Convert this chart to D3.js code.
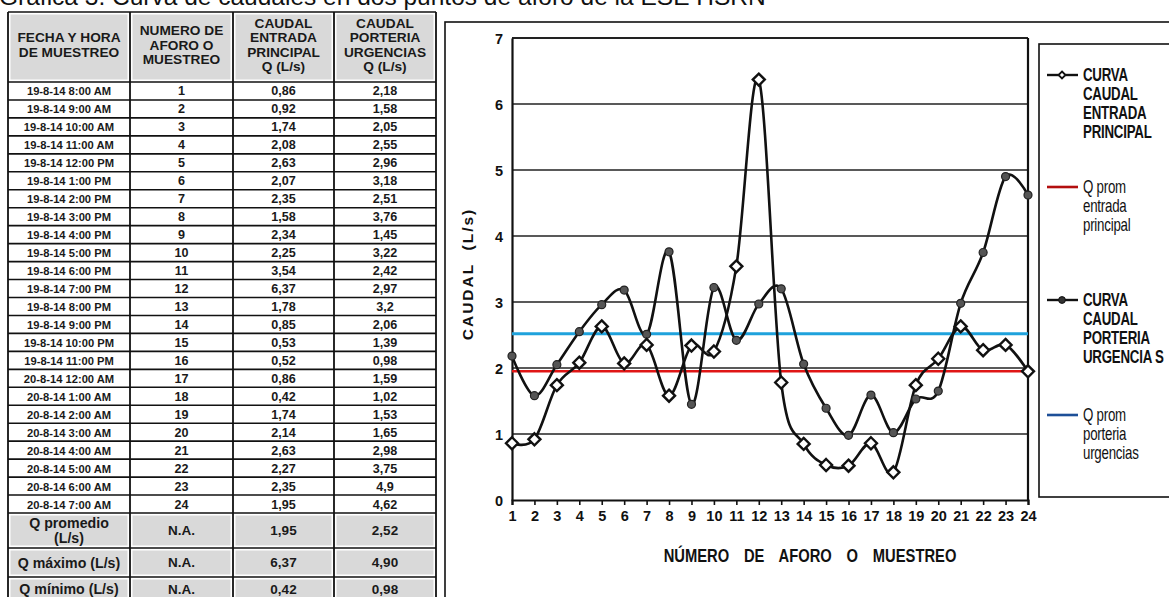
<!DOCTYPE html>
<html><head><meta charset="utf-8">
<script src="https://cdn.jsdelivr.net/npm/d3@7"></script>
<style>body{margin:0;background:#fff}svg{display:block}</style>
</head><body><svg id="c" width="1169" height="597"></svg>
<script>
const titulo = "Gráfica 3. Curva de caudales en dos puntos de aforo de la ESE HSRN";
const fechas = ["19-8-14 8:00 AM","19-8-14 9:00 AM","19-8-14 10:00 AM","19-8-14 11:00 AM","19-8-14 12:00 PM","19-8-14 1:00 PM","19-8-14 2:00 PM","19-8-14 3:00 PM","19-8-14 4:00 PM","19-8-14 5:00 PM","19-8-14 6:00 PM","19-8-14 7:00 PM","19-8-14 8:00 PM","19-8-14 9:00 PM","19-8-14 10:00 PM","19-8-14 11:00 PM","20-8-14 12:00 AM","20-8-14 1:00 AM","20-8-14 2:00 AM","20-8-14 3:00 AM","20-8-14 4:00 AM","20-8-14 5:00 AM","20-8-14 6:00 AM","20-8-14 7:00 AM"];
const muestreos = [1,2,3,4,5,6,7,8,9,10,11,12,13,14,15,16,17,18,19,20,21,22,23,24];
const entrada = [0.86,0.92,1.74,2.08,2.63,2.07,2.35,1.58,2.34,2.25,3.54,6.37,1.78,0.85,0.53,0.52,0.86,0.42,1.74,2.14,2.63,2.27,2.35,1.95];
const porteria = [2.18,1.58,2.05,2.55,2.96,3.18,2.51,3.76,1.45,3.22,2.42,2.97,3.2,2.06,1.39,0.98,1.59,1.02,1.53,1.65,2.98,3.75,4.9,4.62];
const promEntrada = 1.95;
const promPorteria = 2.52;
const encabezados = [["FECHA Y HORA","DE MUESTREO"],["NUMERO DE","AFORO O","MUESTREO"],["CAUDAL","ENTRADA","PRINCIPAL","Q (L/s)"],["CAUDAL","PORTERIA","URGENCIAS","Q (L/s)"]];
const resumenEtiquetas = [["Q promedio","(L/s)"],["Q máximo (L/s)"],["Q mínimo (L/s)"]];
const resumenNA = ["N.A.","N.A.","N.A."];
const resumenEntrada = ["1,95","6,37","0,42"];
const resumenPorteria = ["2,52","4,90","0,98"];
const yTicks = [0,1,2,3,4,5,6,7];
const leyenda = [
  {lines:["CURVA","CAUDAL","ENTRADA","PRINCIPAL"], kind:"diamond", color:"#111", bold:true},
  {lines:["Q prom","entrada","principal"], kind:"line", color:"#b30f0f", bold:false},
  {lines:["CURVA","CAUDAL","PORTERIA","URGENCIA S"], kind:"circle", color:"#111", bold:true},
  {lines:["Q prom","porteria","urgencias"], kind:"line", color:"#1d4f98", bold:false}
];
const ejeY = "CAUDAL  (L/s)";
const ejeX = "NÚMERO DE AFORO O MUESTREO";

const svg = d3.select("#c");
svg.append("rect").attr("width",1169).attr("height",597).attr("fill","#fff");
const SANS = "'Liberation Sans', Arial, sans-serif";
const fmt = v => String(v).replace(".", ",");
// condensed text helper (no narrow font available): horizontal scale
function narrow(parent, x, y, sx, txt){
  return parent.append("text").attr("transform",`translate(${x},${y}) scale(${sx},1)`)
    .attr("font-family",SANS).attr("fill","#111").text(txt);
}

// Title (clipped at top)
svg.append("text").attr("x",-1).attr("y",5).attr("font-family",SANS).attr("font-size",24.5)
  .attr("fill","#111").text(titulo);

// ---------- TABLE ----------
const colX = [8,130,233,334,436];
const headTop = 12, headBot = 82, dataBot = 513;
const rowY = d3.scaleLinear().domain([0,24]).range([headBot,dataBot]);
const sumY = [513,548,577,612];
const tbl = svg.append("g");
for (let c=0;c<4;c++){
  tbl.append("rect").attr("x",colX[c]+2.5).attr("y",headTop+2.5)
    .attr("width",colX[c+1]-colX[c]-5).attr("height",headBot-headTop-5).attr("fill","#d9d9d9");
  for (let r=0;r<3;r++){
    tbl.append("rect").attr("x",colX[c]+2.5).attr("y",sumY[r]+2.5)
      .attr("width",colX[c+1]-colX[c]-5).attr("height",sumY[r+1]-sumY[r]-5).attr("fill","#d9d9d9");
  }
}
const hLines = [headTop, ...muestreos.map((d,i)=>rowY(i)), dataBot, ...sumY.slice(1)];
tbl.selectAll("line.h").data(hLines).enter().append("line")
  .attr("x1",colX[0]).attr("x2",colX[4]).attr("y1",d=>d).attr("y2",d=>d)
  .attr("stroke","#111").attr("stroke-width",1.6);
tbl.selectAll("line.v").data(colX).enter().append("line")
  .attr("x1",d=>d).attr("x2",d=>d).attr("y1",headTop).attr("y2",620)
  .attr("stroke","#111").attr("stroke-width",1.8);
encabezados.forEach((lines,c)=>{
  const cx = (colX[c]+colX[c+1])/2, cy = 45, lh = 14.6;
  lines.forEach((t,i)=>{
    tbl.append("text").attr("x",cx).attr("y",cy+(i-(lines.length-1)/2)*lh)
      .attr("text-anchor","middle").attr("dominant-baseline","central")
      .attr("font-family",SANS).attr("font-weight","bold").attr("font-size",13.7)
      .attr("fill","#1a1a1a").text(t);
  });
});
muestreos.forEach((m,i)=>{
  const cy = rowY(i)+ (rowY(i+1)-rowY(i))/2 + 0.5;
  const cells = [fechas[i], String(m), fmt(entrada[i]), fmt(porteria[i])];
  cells.forEach((t,c)=>{
    tbl.append("text").attr("x",(colX[c]+colX[c+1])/2).attr("y",cy)
      .attr("text-anchor","middle").attr("dominant-baseline","central")
      .attr("font-family",SANS).attr("font-weight","bold")
      .attr("font-size", c===0?11.2:12.6)
      .attr("fill","#1a1a1a").text(t);
  });
});
resumenEtiquetas.forEach((lines,r)=>{
  const cy = (sumY[r]+sumY[r+1])/2 + (r===2?-3:0);
  const cyc = Math.min(cy, 589);
  lines.forEach((t,i)=>{
    tbl.append("text").attr("x",(colX[0]+colX[1])/2).attr("y",cyc+(i-(lines.length-1)/2)*15)
      .attr("text-anchor","middle").attr("dominant-baseline","central")
      .attr("font-family",SANS).attr("font-weight","bold").attr("font-size",14.2)
      .attr("fill","#1a1a1a").text(t);
  });
  [resumenNA[r], resumenEntrada[r], resumenPorteria[r]].forEach((t,k)=>{
    const c = k+1;
    tbl.append("text").attr("x",(colX[c]+colX[c+1])/2).attr("y",cyc)
      .attr("text-anchor","middle").attr("dominant-baseline","central")
      .attr("font-family",SANS).attr("font-weight","bold").attr("font-size",13.5)
      .attr("fill","#1a1a1a").text(t);
  });
});

// ---------- CHART ----------
svg.append("rect").attr("x",445).attr("y",22).attr("width",800).attr("height",700)
  .attr("fill","none").attr("stroke","#111").attr("stroke-width",1.6);

const x = d3.scaleLinear().domain([1,24]).range([512,1028]);
const y = d3.scaleLinear().domain([0,7]).range([500,38]);
const g = svg.append("g");

g.selectAll("line.grid").data(yTicks.filter(d=>d>0)).enter().append("line")
  .attr("x1",x(1)).attr("x2",x(24)).attr("y1",d=>y(d)).attr("y2",d=>y(d))
  .attr("stroke","#222").attr("stroke-width",d=>d===7?2.2:1.5);
g.append("line").attr("x1",x(24)).attr("x2",x(24)).attr("y1",y(7)).attr("y2",y(0))
  .attr("stroke","#111").attr("stroke-width",2.2);

const xAxis = d3.axisBottom(x).tickValues(muestreos).tickSize(5).tickPadding(6).tickFormat(d3.format("d"));
const yAxis = d3.axisLeft(y).tickValues(yTicks).tickSize(0).tickPadding(9).tickFormat(d3.format("d"));
const gx = g.append("g").attr("transform",`translate(0,${y(0)})`).call(xAxis);
const gy = g.append("g").attr("transform",`translate(${x(1)},0)`).call(yAxis);
[gx,gy].forEach(a=>{
  a.select(".domain").attr("stroke","#111").attr("stroke-width",2.2);
  a.selectAll(".tick line").attr("stroke","#111").attr("stroke-width",1.6);
  a.selectAll("text").attr("font-family",SANS).attr("font-weight","bold")
   .attr("font-size",14.5).attr("fill","#111");
});
gy.selectAll("text").attr("dy","0.35em");

// axis titles
svg.append("text").attr("transform",`translate(473,274) rotate(-90)`)
  .attr("text-anchor","middle").attr("font-family",SANS).attr("font-weight","bold")
  .attr("font-size",15.5).attr("letter-spacing",2).attr("fill","#111")
  .style("white-space","pre").text(ejeY);
narrow(svg, 810, 562, 0.82, ejeX).attr("text-anchor","middle").attr("font-weight","bold")
  .attr("font-size",18).attr("word-spacing",13);

// average lines
g.append("line").attr("x1",x(1)).attr("x2",x(24)).attr("y1",y(promEntrada)).attr("y2",y(promEntrada))
  .attr("stroke","#e01616").attr("stroke-width",2.6);
g.append("line").attr("x1",x(1)).attr("x2",x(24)).attr("y1",y(promPorteria)).attr("y2",y(promPorteria))
  .attr("stroke","#1fa2dc").attr("stroke-width",3);

// curves
const line = d3.line().x((d,i)=>x(muestreos[i])).y(d=>y(d)).curve(d3.curveCatmullRom.alpha(0));
g.append("path").datum(porteria).attr("d",line).attr("fill","none").attr("stroke","#111").attr("stroke-width",2.6);
g.append("path").datum(entrada).attr("d",line).attr("fill","none").attr("stroke","#111").attr("stroke-width",2.6);

// markers
g.selectAll("circle.p").data(porteria).enter().append("circle")
  .attr("cx",(d,i)=>x(muestreos[i])).attr("cy",d=>y(d)).attr("r",4)
  .attr("fill","#555").attr("stroke","#222").attr("stroke-width",1.2);
const diamond = s => `M0,${-s}L${s},0L0,${s}L${-s},0Z`;
g.selectAll("path.d").data(entrada).enter().append("path")
  .attr("transform",(d,i)=>`translate(${x(muestreos[i])},${y(d)})`)
  .attr("d",diamond(6)).attr("fill","#fff").attr("stroke","#111").attr("stroke-width",2.4);

// legend
svg.append("rect").attr("x",1039).attr("y",44).attr("width",200).attr("height",453)
  .attr("fill","#fff").attr("stroke","#111").attr("stroke-width",1.6);
const legY = [75,187,300,415];
leyenda.forEach((it,k)=>{
  const ly = legY[k];
  svg.append("line").attr("x1",1047).attr("x2",1078).attr("y1",ly).attr("y2",ly)
    .attr("stroke",it.color).attr("stroke-width",it.kind==="line"?2.6:2.4);
  if (it.kind==="diamond"){
    svg.append("path").attr("transform",`translate(1062,${ly})`).attr("d",diamond(3.5))
      .attr("fill","#fff").attr("stroke","#111").attr("stroke-width",1.8);
  } else if (it.kind==="circle"){
    svg.append("circle").attr("cx",1062).attr("cy",ly).attr("r",3.4).attr("fill","#333").attr("stroke","#111");
  }
  it.lines.forEach((t,i)=>{
    narrow(svg, 1083, ly+i*19, 0.76, t).attr("dominant-baseline","central")
      .attr("font-weight",it.bold?"bold":"normal").attr("font-size",17.5)
      .attr("letter-spacing",-0.3);
  });
});
</script></body></html>
